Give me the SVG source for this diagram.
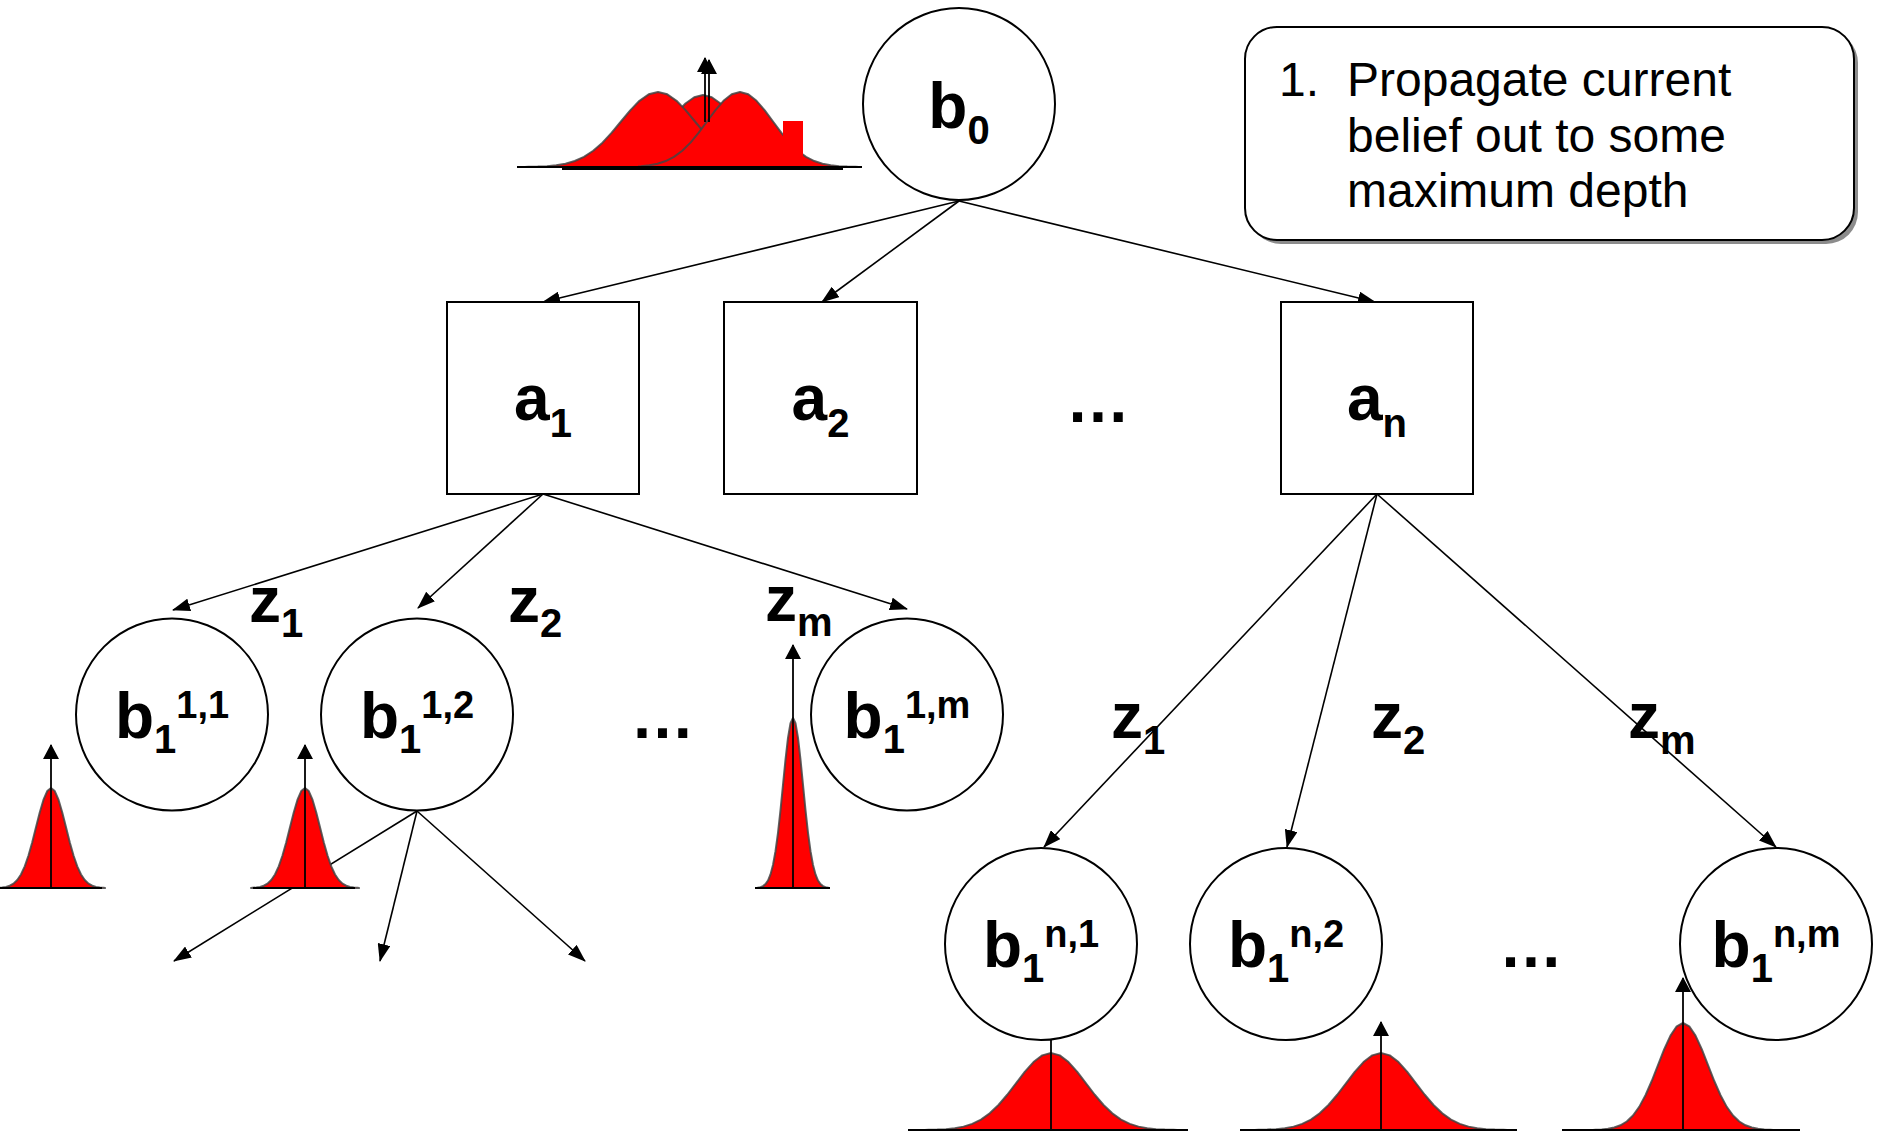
<svg xmlns="http://www.w3.org/2000/svg" xmlns:xlink="http://www.w3.org/1999/xlink" width="1878" height="1134" viewBox="0 0 1878 1134">
<style>
.node{fill:#fff;stroke:#000;stroke-width:2}
.lbl{font-family:"Liberation Sans",Arial,sans-serif;font-weight:bold;font-size:64px;fill:#000}
.sub{font-size:40px}
.sup{font-size:38px}
.conn line{stroke:#000;stroke-width:1.6;marker-end:url(#ah)}
.base{stroke:#000;stroke-width:2}
.darr{stroke:#000;stroke-width:1.8;marker-end:url(#ahw)}
.gs{fill:#ff0000;stroke:#444;stroke-opacity:0.85;stroke-width:2;stroke-linejoin:round}
.note{font-family:"Liberation Sans",Arial,sans-serif;font-size:48px;fill:#000}
</style>
<defs>
<marker id="ah" markerUnits="userSpaceOnUse" viewBox="0 0 18 13" markerWidth="18" markerHeight="13" refX="17" refY="6.5" orient="auto"><path d="M0,0 L18,6.5 L0,13 z" fill="#000"/></marker>
<marker id="ahw" markerUnits="userSpaceOnUse" viewBox="0 0 15 16" markerWidth="15" markerHeight="16" refX="14" refY="8" orient="auto"><path d="M0,0 L15,8 L0,16 z" fill="#000"/></marker>
<path id="g" vector-effect="non-scaling-stroke" d="M-3.6,0 L-3.5,-0.0022 L-3.25,-0.0051 L-3,-0.0111 L-2.75,-0.0228 L-2.5,-0.0439 L-2.25,-0.0796 L-2,-0.1353 L-1.75,-0.2163 L-1.5,-0.3247 L-1.25,-0.4578 L-1,-0.6065 L-0.75,-0.7548 L-0.5,-0.8825 L-0.25,-0.9692 L0,-1 L0.25,-0.9692 L0.5,-0.8825 L0.75,-0.7548 L1,-0.6065 L1.25,-0.4578 L1.5,-0.3247 L1.75,-0.2163 L2,-0.1353 L2.25,-0.0796 L2.5,-0.0439 L2.75,-0.0228 L3,-0.0111 L3.25,-0.0051 L3.5,-0.0022 L3.6,0 Z"/>
</defs>
<rect width="1878" height="1134" fill="#fff"/>

<g id="connectors" class="conn">
<line x1="959" y1="201" x2="543" y2="302"/>
<line x1="959" y1="201" x2="822" y2="302"/>
<line x1="959" y1="201" x2="1375" y2="302"/>
<line x1="543" y1="494" x2="173" y2="610"/>
<line x1="543" y1="494" x2="418" y2="608"/>
<line x1="543" y1="494" x2="907" y2="609"/>
<line x1="417" y1="811" x2="174" y2="961"/>
<line x1="417" y1="811" x2="380" y2="961"/>
<line x1="417" y1="811" x2="585" y2="961"/>
<line x1="1377" y1="494" x2="1044" y2="847"/>
<line x1="1377" y1="494" x2="1287" y2="847"/>
<line x1="1377" y1="494" x2="1776" y2="847"/>
</g>

<g id="note">
<rect x="1249" y="31" width="609" height="213" rx="32" fill="#8c8c8c"/>
<rect x="1245" y="27" width="609" height="213" rx="32" fill="#fff" stroke="#000" stroke-width="2"/>
<text class="note" x="1279" y="96">1.</text>
<text class="note" x="1347" y="96">Propagate current</text>
<text class="note" x="1347" y="152">belief out to some</text>
<text class="note" x="1347" y="207">maximum depth</text>
</g>

<g id="b0"><circle class="node" cx="959" cy="104" r="96"/><text class="lbl" x="959" y="128" text-anchor="middle">b<tspan class="sub" dy="16">0</tspan></text></g>

<g id="a1"><rect class="node" x="447" y="302" width="192" height="192"/><text class="lbl" x="543" y="420" text-anchor="middle">a<tspan class="sub" dy="17">1</tspan></text></g>
<g id="a2"><rect class="node" x="724" y="302" width="193" height="192"/><text class="lbl" x="820.5" y="420" text-anchor="middle">a<tspan class="sub" dy="17">2</tspan></text></g>
<g id="an"><rect class="node" x="1281" y="302" width="192" height="192"/><text class="lbl" x="1377" y="420" text-anchor="middle">a<tspan class="sub" dy="17">n</tspan></text></g>
<text class="lbl" x="1098" y="422" text-anchor="middle">…</text>

<g id="b1_11"><circle class="node" cx="172" cy="714.5" r="96"/><text class="lbl" x="172" y="738" text-anchor="middle">b<tspan class="sub" dy="15">1</tspan><tspan class="sup" dy="-35">1,1</tspan></text></g>
<g id="b1_12"><circle class="node" cx="417" cy="714.5" r="96"/><text class="lbl" x="417" y="738" text-anchor="middle">b<tspan class="sub" dy="15">1</tspan><tspan class="sup" dy="-35">1,2</tspan></text></g>
<g id="b1_1m"><circle class="node" cx="907" cy="714.5" r="96"/><text class="lbl" x="907" y="738" text-anchor="middle">b<tspan class="sub" dy="15">1</tspan><tspan class="sup" dy="-35">1,m</tspan></text></g>
<text class="lbl" x="662.5" y="738" text-anchor="middle">…</text>

<g id="b1_n1"><circle class="node" cx="1041" cy="944" r="96"/><text class="lbl" x="1041" y="967" text-anchor="middle">b<tspan class="sub" dy="15">1</tspan><tspan class="sup" dy="-35">n,1</tspan></text></g>
<g id="b1_n2"><circle class="node" cx="1286" cy="944" r="96"/><text class="lbl" x="1286" y="967" text-anchor="middle">b<tspan class="sub" dy="15">1</tspan><tspan class="sup" dy="-35">n,2</tspan></text></g>
<g id="b1_nm"><circle class="node" cx="1776" cy="944" r="96"/><text class="lbl" x="1776" y="967" text-anchor="middle">b<tspan class="sub" dy="15">1</tspan><tspan class="sup" dy="-35">n,m</tspan></text></g>
<text class="lbl" x="1531" y="967" text-anchor="middle">…</text>

<g id="zlabels">
<text class="lbl" x="249" y="622">z<tspan class="sub" dy="15">1</tspan></text>
<text class="lbl" x="508" y="622">z<tspan class="sub" dy="15">2</tspan></text>
<text class="lbl" x="765" y="621">z<tspan class="sub" dy="15">m</tspan></text>
<text class="lbl" x="1111" y="738">z<tspan class="sub" dy="16">1</tspan></text>
<text class="lbl" x="1371" y="738">z<tspan class="sub" dy="16">2</tspan></text>
<text class="lbl" x="1628" y="738">z<tspan class="sub" dy="16">m</tspan></text>
</g>

<g id="dist0">
<use xlink:href="#g" class="gs" transform="translate(703,167) scale(35,72)"/>
<use xlink:href="#g" class="gs" transform="translate(658,167) scale(37,75)"/>
<use xlink:href="#g" class="gs" transform="translate(740,167) scale(33,75)"/>
<rect x="618" y="127" width="20" height="40" fill="#ff0000"/>
<rect x="783" y="121" width="20" height="46" fill="#ff0000"/>
<line class="base" x1="517" y1="167" x2="862" y2="167"/>
<line class="base" x1="562" y1="169" x2="843" y2="169"/>
<line class="darr" x1="705" y1="122" x2="705" y2="58"/>
<line class="darr" x1="709" y1="122" x2="709" y2="60"/>
</g>
<g id="dist1">
<use xlink:href="#g" class="gs" transform="translate(51,888) scale(15,100)"/>
<line class="base" x1="0" y1="888" x2="102" y2="888"/>
<line class="darr" x1="51" y1="888" x2="51" y2="745"/>
</g>
<g id="dist2">
<use xlink:href="#g" class="gs" transform="translate(305,888) scale(15,100)"/>
<line class="base" x1="253" y1="888" x2="355" y2="888"/>
<line class="darr" x1="305" y1="888" x2="305" y2="745"/>
</g>
<g id="dist3">
<use xlink:href="#g" class="gs" transform="translate(793,888) scale(10,170)"/>
<line class="base" x1="755" y1="888" x2="830" y2="888"/>
<line class="darr" x1="793" y1="888" x2="793" y2="645"/>
</g>
<g id="dist4">
<use xlink:href="#g" class="gs" transform="translate(1051,1130) scale(35,77)"/>
<line class="base" x1="908" y1="1130" x2="1188" y2="1130"/>
<line x1="1051" y1="1130" x2="1051" y2="1040" stroke="#000" stroke-width="1.8"/>
</g>
<g id="dist5">
<use xlink:href="#g" class="gs" transform="translate(1381,1130) scale(35,77)"/>
<line class="base" x1="1240" y1="1130" x2="1517" y2="1130"/>
<line class="darr" x1="1381" y1="1130" x2="1381" y2="1022"/>
</g>
<g id="dist6">
<use xlink:href="#g" class="gs" transform="translate(1683,1130) scale(25,107)"/>
<line class="base" x1="1562" y1="1130" x2="1800" y2="1130"/>
<line class="darr" x1="1683" y1="1130" x2="1683" y2="978"/>
</g>
</svg>
